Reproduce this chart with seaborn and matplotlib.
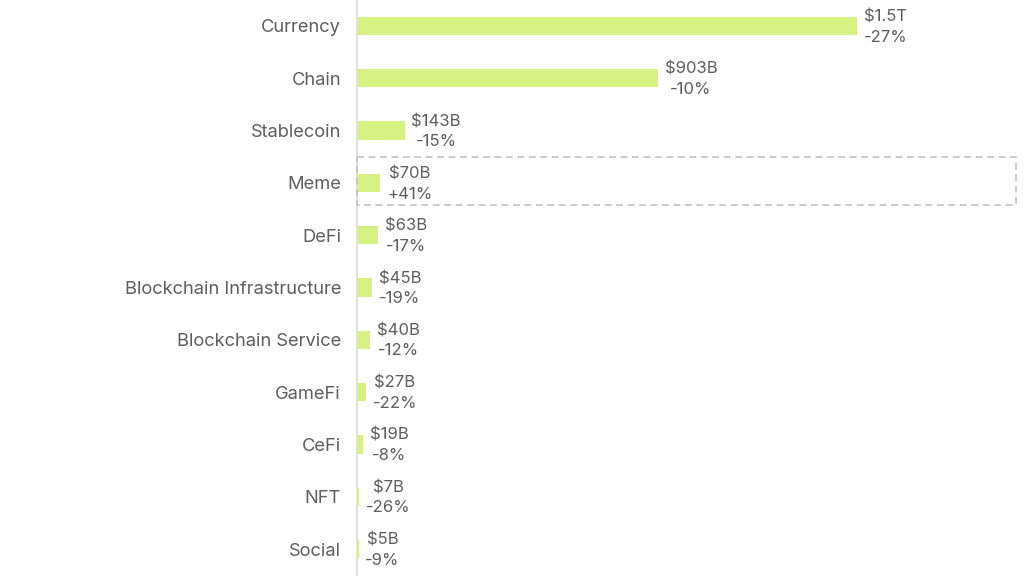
import pandas as pd
import matplotlib.pyplot as plt
import seaborn as sns
from matplotlib.patches import Rectangle

categories = ["Currency", "Chain", "Stablecoin", "Meme", "DeFi", "Blockchain Infrastructure",
              "Blockchain Service", "GameFi", "CeFi", "NFT", "Social"]
market_cap = [1500, 903, 143, 70, 63, 45, 40, 27, 19, 7, 5]  # $B
cap_labels = ["$1.5T", "$903B", "$143B", "$70B", "$63B", "$45B", "$40B", "$27B", "$19B", "$7B", "$5B"]
changes = ["-27%", "-10%", "-15%", "+41%", "-17%", "-19%", "-12%", "-22%", "-8%", "-26%", "-9%"]

sns.set_style("white")
plt.rcParams["font.family"] = ["Inter", "DejaVu Sans"]

TEXT = "#5e5e5e"
df = pd.DataFrame({"category": categories, "cap": market_cap})

fig = plt.figure(figsize=(10.24, 5.76), dpi=100)
ax = fig.add_axes([357 / 1024, 0, 667 / 1024, 1])
sns.barplot(data=df, y="category", x="cap", color="#d7f183", saturation=1, width=0.35,
            linewidth=0, zorder=3, ax=ax)

ax.set_xlim(0, 2001)
ax.set_ylim(10.516, -0.497)
ax.set_xlabel("")
ax.set_ylabel("")
ax.set_xticks([])
ax.tick_params(axis="y", length=0, pad=11.5, labelsize=13.2, labelcolor=TEXT)

sns.despine(ax=ax, left=False, bottom=True)
ax.spines["left"].set_color("#dcdcdc")
ax.spines["left"].set_linewidth(1.2)

for i, (cap, lab, chg) in enumerate(zip(market_cap, cap_labels, changes)):
    ax.annotate(f"{lab}\n{chg}", xy=(cap, i), xytext=(4.8, -0.8), textcoords="offset points",
                ha="left", va="center", ma="center", fontsize=12, color=TEXT,
                linespacing=1.42, clip_on=False)

# highlight around Meme
ax.add_patch(Rectangle((0, 2.505), 1977, 0.915, fill=False, edgecolor="#bdbdbd",
                       linestyle=(0, (4.5, 3)), linewidth=1.1, clip_on=False, zorder=4))

fig.savefig("out.png", dpi=100)
